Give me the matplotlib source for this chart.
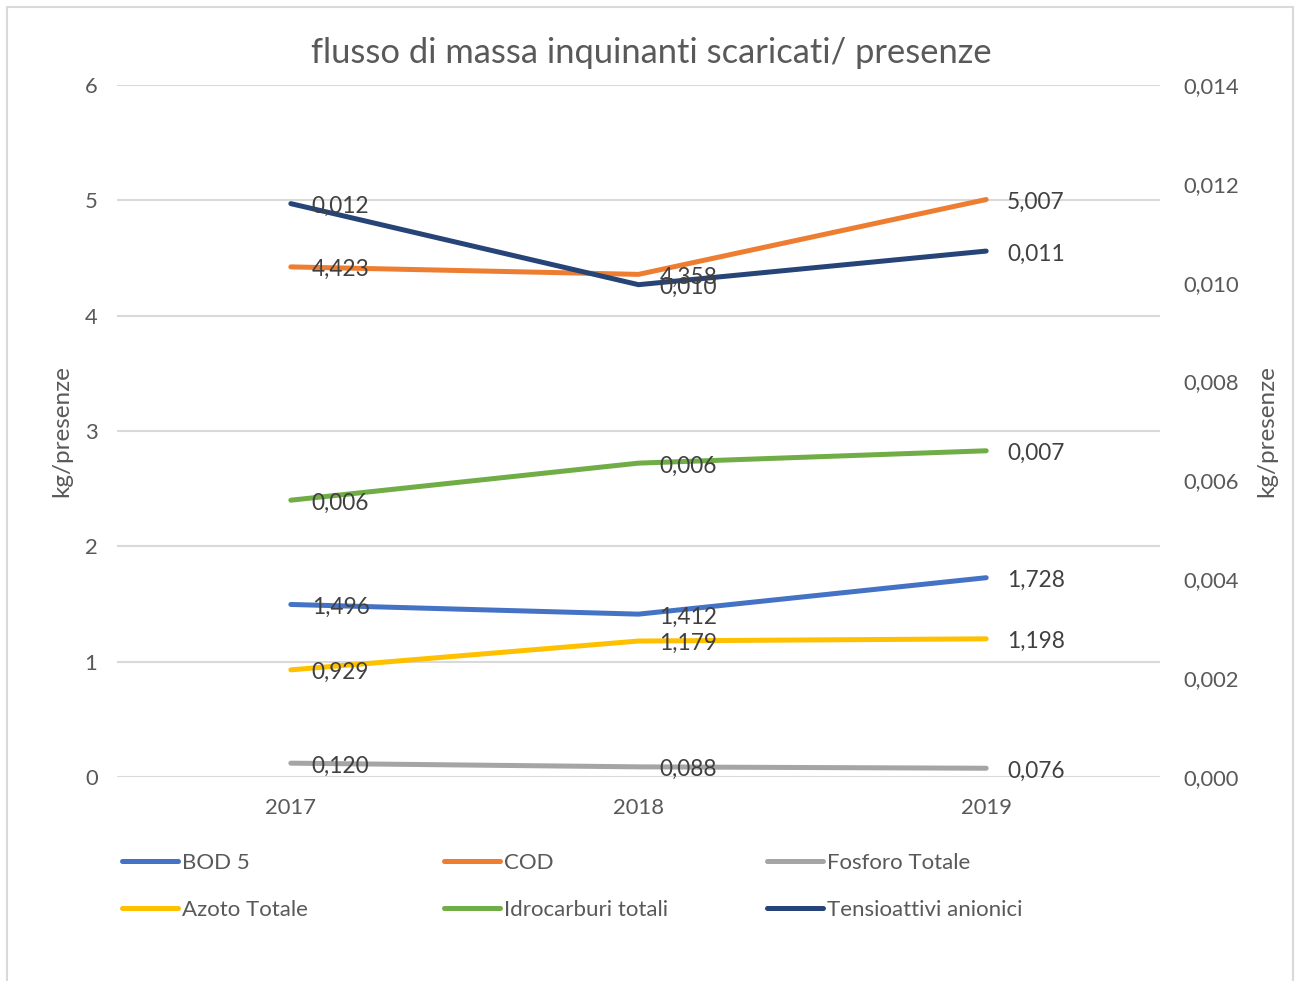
import matplotlib.pyplot as plt
from matplotlib.patches import Rectangle
from matplotlib.ticker import FuncFormatter

plt.rcParams['font.family'] = ['Lato', 'DejaVu Sans']

anni = ['2017', '2018', '2019']

# serie su asse principale (kg/presenze)
bod5 = [1.496, 1.412, 1.728]
cod = [4.423, 4.358, 5.007]
fosforo = [0.120, 0.088, 0.076]
azoto = [0.929, 1.179, 1.198]

# serie su asse secondario
idrocarburi = [0.0056, 0.00635, 0.0066]
tensioattivi = [0.0116, 0.00996, 0.01064]

col_bod = '#4472C4'
col_cod = '#ED7D31'
col_fos = '#A5A5A5'
col_azo = '#FFC000'
col_idr = '#70AD47'
col_ten = '#264478'

grigio_testo = '#595959'
grigio_label = '#404040'


def virgola(v, dec):
    return f'{v:.{dec}f}'.replace('.', ',')


fig = plt.figure(figsize=(12.95, 9.81), dpi=100)
fig.patches.append(Rectangle((7 / 1295, -0.05), 1286 / 1295, 1.05 - 7 / 981,
                             transform=fig.transFigure, fill=False,
                             edgecolor='#d9d9d9', linewidth=1.5))

ax = fig.add_axes([117 / 1295, 1 - 777 / 981, 1043 / 1295, 692 / 981])
ax2 = ax.twinx()

x = list(range(len(anni)))
lw = 3.6

serie_sx = [('BOD 5', bod5, col_bod), ('COD', cod, col_cod),
            ('Fosforo Totale', fosforo, col_fos), ('Azoto Totale', azoto, col_azo)]
serie_dx = [('Idrocarburi totali', idrocarburi, col_idr),
            ('Tensioattivi anionici', tensioattivi, col_ten)]

handles = {}
for nome, val, col in serie_sx:
    h, = ax.plot(x, val, color=col, lw=lw, solid_capstyle='round',
                 solid_joinstyle='round', zorder=3)
    handles[nome] = h
for nome, val, col in serie_dx:
    h, = ax2.plot(x, val, color=col, lw=lw, solid_capstyle='round',
                  solid_joinstyle='round', zorder=3)
    handles[nome] = h

# etichette dati a destra dei punti
fs_lab = 16.3
for nome, val, col in serie_sx:
    for xi, v in zip(x, val):
        ax2.annotate(virgola(v, 3), (xi, v), xycoords=('data', ax.transData),
                     xytext=(15, -2), textcoords='offset points',
                     va='center', ha='left', fontsize=fs_lab, color=grigio_label,
                     zorder=10)
for nome, val, col in serie_dx:
    for xi, v in zip(x, val):
        ax2.annotate(virgola(v, 3), (xi, v), xytext=(15, -2),
                     textcoords='offset points', va='center', ha='left',
                     fontsize=fs_lab, color=grigio_label, zorder=10)

ax.set_xlim(-0.5, 2.5)
ax.set_ylim(0, 6)
ax2.set_ylim(0, 0.014)
ax.set_xticks(x)
ax.set_xticklabels(anni)
ax.set_yticks(range(0, 7))
ax2.set_yticks([i * 0.002 for i in range(8)])
ax2.yaxis.set_major_formatter(FuncFormatter(lambda v, p: virgola(v, 3)))

ax.grid(axis='y', color='#d9d9d9', lw=1.5)
ax.set_axisbelow(True)
for a in (ax, ax2):
    for s in a.spines.values():
        s.set_visible(False)
ax.tick_params(axis='both', length=0, labelsize=15.8, labelcolor=grigio_testo)
ax.tick_params(axis='y', pad=14)
ax.tick_params(axis='x', pad=15)
ax2.tick_params(axis='y', length=0, labelsize=15.8, labelcolor=grigio_testo, pad=16.5)

ax.set_ylabel('kg/presenze', fontsize=17.5, color=grigio_testo, labelpad=9)
ax2.set_ylabel('kg/presenze', fontsize=17.5, color=grigio_testo, labelpad=13)

fig.text(651 / 1295, 1 - 53 / 981, 'flusso di massa inquinanti scaricati/ presenze',
         ha='center', va='center', fontsize=24.8, color=grigio_testo)

# legenda su tre colonne, due righe
colonne = [['BOD 5', 'Azoto Totale'], ['COD', 'Idrocarburi totali'],
           ['Fosforo Totale', 'Tensioattivi anionici']]
x_col = [122, 444, 767]
for nomi, xc in zip(colonne, x_col):
    leg = fig.legend([handles[n] for n in nomi], nomi,
                     loc='upper left', bbox_to_anchor=(xc / 1295, 1 - 853 / 981),
                     frameon=False, fontsize=16, handlelength=2.5,
                     handletextpad=0.22, labelspacing=1.21, borderpad=0,
                     borderaxespad=0)
    for t in leg.get_texts():
        t.set_color(grigio_testo)

fig.savefig('out.png', dpi=100)
